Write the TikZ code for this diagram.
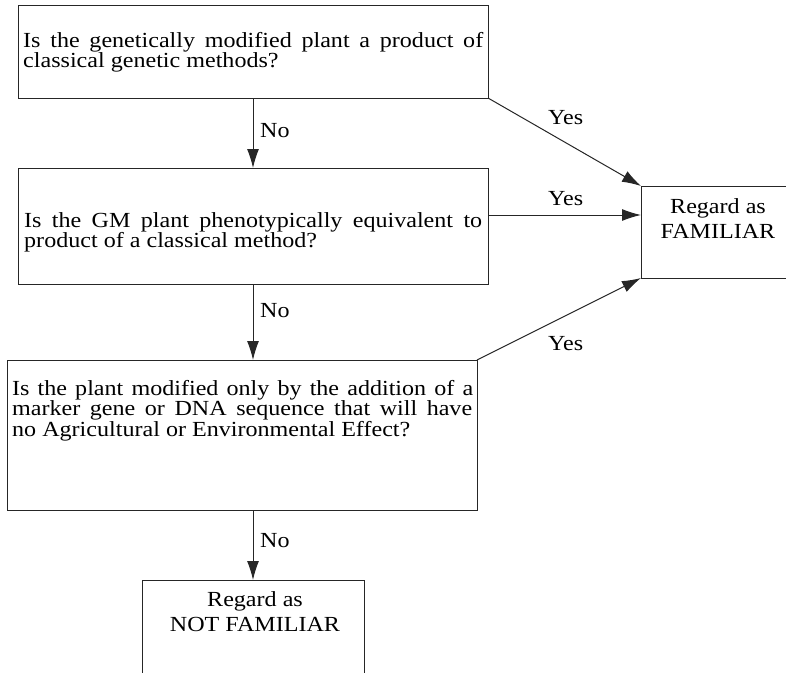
\documentclass[tikz,border=0pt]{standalone}
\usepackage{fontspec}
\setmainfont{Liberation Serif}[FakeStretch=1.12]
\usetikzlibrary{arrows.meta,calc}
\newcommand{\qfont}{\fontsize{21.5}{20.5}\selectfont\lineskiplimit=-50pt\relax}
\newcommand{\rfont}{\fontsize{21.5}{25.2}\selectfont\lineskiplimit=-50pt\relax}
\tikzset{
  box/.style={draw=black!85, line width=1pt, rectangle, inner sep=0pt, outer sep=0pt},
  qtext/.style={anchor=base west, inner sep=0pt},
  rtext/.style={anchor=base, inner sep=0pt},
  lbl/.style={anchor=base west, inner sep=0pt, font=\qfont},
  arr/.style={draw=black!85, line width=1pt, -{Latex[length=19pt,width=12pt]}}
}
\begin{document}
\begin{tikzpicture}[x=1pt,y=-1pt]
\useasboundingbox (0,0) rectangle (786,672);
% boxes
\node[box, minimum width=470pt, minimum height=93pt] (b1) at (253,51.5) {};
\node[box, minimum width=470pt, minimum height=116pt] (b2) at (253,226) {};
\node[box, minimum width=470pt, minimum height=150pt] (b3) at (242,435) {};
\node[box, minimum width=159pt, minimum height=92pt] (fam) at (720.5,232) {};
\node[box, minimum width=222pt, minimum height=120pt] (nf) at (253,640) {};
% texts
\node[qtext] (t1) at (23,47) {\parbox[t]{460pt}{\qfont\makebox[460pt][s]{Is the genetically modified plant a product of}\\classical genetic methods?}};
\node[qtext] (t2) at (24,227) {\parbox[t]{460pt}{\qfont\makebox[458pt][s]{Is the GM plant phenotypically equivalent to}\\product of a classical method?}};
\node[qtext] (t3) at (12,395) {\parbox[t]{461pt}{\qfont\makebox[461pt][s]{Is the plant modified only by the addition of a}\\\makebox[460pt][s]{marker gene or DNA sequence that will have}\\no Agricultural or Environmental Effect?}};
\node[rtext] (tf) at (718,213) {\parbox[t]{150pt}{\rfont\centering Regard as\\FAMILIAR}};
\node[rtext] (tn) at (255,606) {\parbox[t]{210pt}{\rfont\centering Regard as\\NOT FAMILIAR}};
% helper coordinate
\coordinate (y2) at (0,215);
% connectors
\draw[arr] (b1.south) -- (b2.north);
\draw[arr] (b2.south) -- (b2.south |- b3.north);
\draw[arr] (b2.south |- b3.south) -- (nf.north);
\draw[arr] (b1.south east) -- (fam.north west);
\draw[arr] (b2.east |- y2) -- (fam.west |- y2);
\draw[arr] (b3.north east) -- (fam.south west);
% labels
\node[lbl] (n1) at (260,137) {No};
\node[lbl] (n2) at (260,317) {No};
\node[lbl] (n3) at (260,547) {No};
\node[lbl] (y1) at (548,124) {Yes};
\node[lbl] (y2l) at (548,205) {Yes};
\node[lbl] (y3) at (548,350) {Yes};
\end{tikzpicture}
\end{document}
